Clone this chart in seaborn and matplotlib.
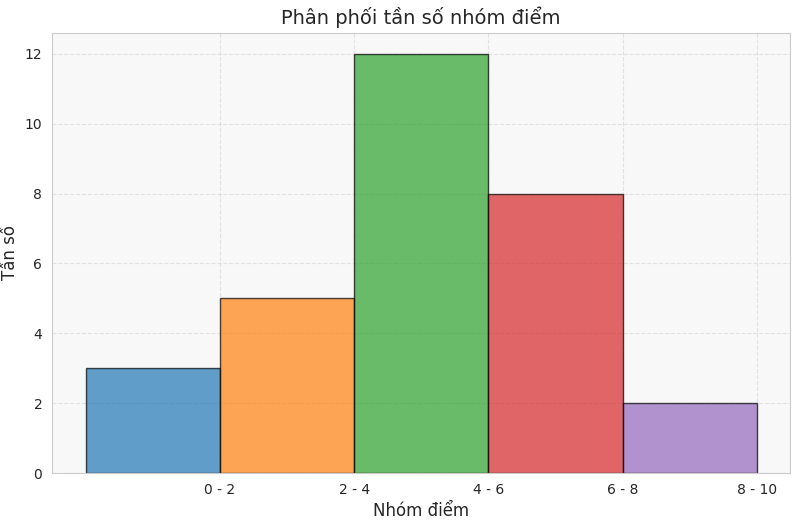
import matplotlib
matplotlib.use("Agg")
import matplotlib.pyplot as plt
import seaborn as sns
import pandas as pd

groups = ["0 - 2", "2 - 4", "4 - 6", "6 - 8", "8 - 10"]
counts = [3, 5, 12, 8, 2]
colors = ["#1f77b4", "#ff7f0e", "#2ca02c", "#d62728", "#9467bd"]

sns.set_style("whitegrid")
plt.rcParams['font.family'] = ['DejaVu Sans']

df = pd.DataFrame({"pos": range(len(groups)), "count": counts})
fig, ax = plt.subplots(figsize=(8, 5.21), dpi=100)
ax.set_facecolor("#f8f8f8")
ax.bar(df["pos"], df["count"], width=1, color=colors, alpha=0.7, edgecolor="black", linewidth=1)
ax.set_xticks([p + 0.5 for p in df["pos"]])
ax.set_xticklabels(groups)
ax.set_xlim(-0.75, 4.75)
ax.set_ylim(0, 12.6)
ax.grid(True, linestyle="--", alpha=0.5, color="#cccccc")
ax.set_axisbelow(True)
for s in ax.spines.values():
    s.set_color("#cccccc")
ax.set_title("Phân phối tần số nhóm điểm", fontsize=14)
ax.set_xlabel("Nhóm điểm", fontsize=12)
ax.set_ylabel("Tần số", fontsize=12)
fig.subplots_adjust(left=0.065, right=0.988, top=0.937, bottom=0.092)
fig.savefig("out.png")
